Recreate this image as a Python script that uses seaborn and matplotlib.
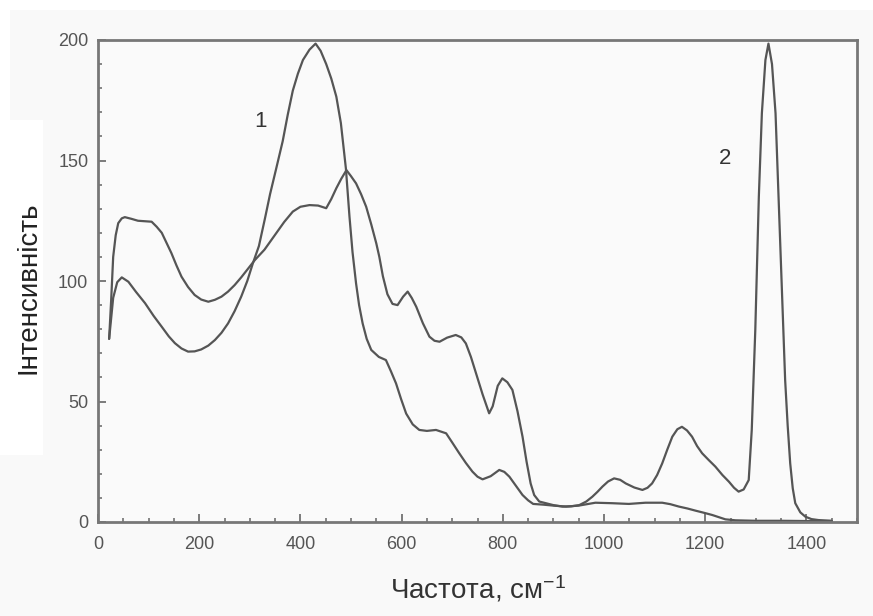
import numpy as np
import pandas as pd
import matplotlib
matplotlib.use("Agg")
import matplotlib.pyplot as plt
from matplotlib.patches import Rectangle
from matplotlib.ticker import MultipleLocator
import seaborn as sns

# Spectrum 1: broad band near 430 cm-1
freq_1 = [22, 30, 38, 47, 60, 75, 93, 110, 126, 140, 152, 165, 178, 191, 204,
          218, 231, 244, 257, 270, 283, 295, 306, 318, 330, 340, 352, 365, 375,
          385, 395, 405, 418, 430, 440, 451, 461, 471, 480, 490, 497, 503, 510,
          516, 523, 531, 540, 555, 569, 579, 589, 599, 609, 622, 635, 650, 668,
          688, 700, 714, 727, 740, 750, 760, 776, 793, 803, 813, 826, 839, 850,
          860, 880, 900, 925, 950, 983, 1016, 1049, 1082, 1115, 1131, 1148, 1165,
          1181, 1198, 1214, 1227, 1240, 1260, 1300, 1350, 1400, 1450]
int_1 = [76, 93, 99.5, 101.5, 99.7, 95.5, 90.8, 85.5, 81, 77, 74.2, 72, 70.7,
         70.8, 71.6, 73.2, 75.5, 78.5, 82.4, 87.5, 93.5, 100, 107.3, 114.5, 126,
         136, 146.5, 158, 169, 179, 186, 191.7, 196, 198.5, 195.5, 190, 184,
         176.5, 165.5, 146.5, 126.7, 112, 99, 90, 82.4, 76, 71.4, 68.5, 67.2,
         62.5, 57.5, 51, 45, 40.5, 38.2, 37.8, 38.2, 36.8, 33, 28.5, 24.5, 20.9,
         18.8, 17.7, 19, 21.6, 20.8, 18.8, 15, 11.2, 9, 7.5, 7.2, 6.8, 6.4, 6.8,
         8, 7.8, 7.5, 8, 8, 7.4, 6.4, 5.6, 4.7, 3.8, 2.9, 2, 1.1, 0.7, 0.5, 0.5,
         0.4, 0.4]

# Spectrum 2: sharp line near 1325 cm-1
freq_2 = [22, 26, 30, 35, 40, 47, 53, 66, 79, 92, 106, 116, 126, 135, 145, 155,
          165, 178, 191, 204, 218, 231, 244, 257, 270, 283, 296, 310, 329, 352,
          368, 385, 400, 418, 435, 451, 461, 471, 481, 491, 500, 510, 520, 530,
          540, 550, 556, 563, 572, 582, 592, 603, 612, 620, 629, 642, 655, 665,
          675, 690, 707, 718, 727, 737, 747, 760, 773, 780, 790, 799, 809, 819,
          829, 839, 847, 855, 862, 872, 885, 900, 918, 935, 951, 965, 977, 987,
          997, 1008, 1020, 1032, 1043, 1060, 1076, 1086, 1095, 1105, 1115, 1125,
          1135, 1145, 1154, 1164, 1174, 1184, 1194, 1207, 1220, 1234, 1247, 1257,
          1266, 1276, 1286, 1292, 1299, 1306, 1312, 1319, 1325, 1332, 1339, 1345,
          1352, 1358, 1363, 1368, 1373, 1378, 1388, 1398, 1410, 1424, 1450]
int_2 = [76, 92, 110, 119, 124, 126, 126.5, 125.8, 125, 124.8, 124.6, 122.5,
         120, 116, 111.6, 106.5, 101.8, 97.5, 94.2, 92.3, 91.4, 92.2, 93.5, 95.6,
         98.3, 101.5, 105, 108.7, 113, 119.8, 124.5, 128.8, 130.8, 131.5, 131.3,
         130.2, 134, 138.5, 142.5, 146, 143.5, 140.5, 136, 130.8, 123.5, 115.6,
         110, 102, 94.5, 90.5, 90, 93.5, 95.6, 93, 89.3, 82.5, 76.9, 75.2, 74.8,
         76.5, 77.6, 76.6, 74.1, 68.5, 61.7, 53, 45.1, 48, 56.5, 59.6, 58, 54.8,
         46, 35.4, 25, 16, 11.2, 8.5, 7.8, 7, 6.4, 6.5, 7, 8.5, 10.5, 12.5, 14.7,
         16.8, 18.1, 17.5, 16, 14.3, 13.3, 14.2, 16, 19.5, 24.3, 30, 35.4, 38.5,
         39.5, 38, 35.4, 31.5, 28.5, 25.7, 23, 19.5, 16.7, 14.2, 12.6, 13.5, 17.4,
         38.2, 79.7, 135, 169.6, 191.7, 198.5, 190, 169.6, 135, 93.5, 58.9, 40,
         24.3, 14, 7.8, 4, 2.2, 1.2, 0.8, 0.5]

curve_names = ["1", "2"]
x_ticks = [0, 200, 400, 600, 800, 1000, 1200, 1400]
y_ticks = [0, 50, 100, 150, 200]
x_label = "Частота, см$^{-1}$"
y_label = "Інтенсивність"

df = pd.concat([
    pd.DataFrame({"freq": freq_1, "intensity": int_1, "curve": curve_names[0]}),
    pd.DataFrame({"freq": freq_2, "intensity": int_2, "curve": curve_names[1]}),
], ignore_index=True)

sns.set_style("ticks")
plt.rcParams["font.family"] = ["Liberation Sans", "DejaVu Sans"]
plt.rcParams["mathtext.fontset"] = "custom"
plt.rcParams["mathtext.rm"] = "Liberation Sans"
plt.rcParams["mathtext.it"] = "Liberation Sans"

W, H = 873, 616
fig = plt.figure(figsize=(W / 100, H / 100), dpi=100, facecolor="#f9f9f9")

# white margins of the page behind the plot
for (x0, y0, w, h) in [(0, 0, W, 10), (0, 120, 43, 335), (0, 10, 10, 110)]:
    fig.patches.append(Rectangle((x0 / W, 1 - (y0 + h) / H), w / W, h / H,
                                 transform=fig.transFigure, facecolor="white",
                                 edgecolor="none", zorder=-5))

ax = fig.add_axes([98 / W, 1 - 522 / H, (857 - 98) / W, (522 - 40) / H])
ax.set_facecolor("#fafafa")

line_color = "#555555"
sns.lineplot(data=df, x="freq", y="intensity", hue="curve", units="curve",
             estimator=None, sort=False, palette=[line_color, line_color],
             linewidth=1.6, legend=False, ax=ax)
for ln in ax.lines:
    ln.set_solid_joinstyle("round")

ax.set_xlim(0, 1500)
ax.set_ylim(0, 200)
ax.set_xticks(x_ticks)
ax.set_yticks(y_ticks)
ax.xaxis.set_minor_locator(MultipleLocator(50))
ax.yaxis.set_minor_locator(MultipleLocator(10))

spine_color = "#777777"
for s in ax.spines.values():
    s.set_visible(True)
    s.set_color(spine_color)
    s.set_linewidth(2.0)

ax.tick_params(which="both", direction="in", color="#666666", top=False, right=False)
ax.tick_params(which="major", length=6, width=1.2)
ax.tick_params(which="minor", length=3, width=1.1)
ax.tick_params(axis="x", which="major", pad=10, labelsize=13, labelcolor="#555555")
ax.tick_params(axis="y", which="major", pad=7, labelsize=13, labelcolor="#555555")

ax.set_xlabel(x_label, fontsize=20, color="#333333")
ax.set_ylabel(y_label, fontsize=20, color="#222222")
ax.xaxis.set_label_coords(0.5, -0.107)
ax.yaxis.set_label_coords(-0.075, 0.487)

# curve numbers
ax.text(321, 166, curve_names[0], fontsize=16, color="#333333", ha="center", va="center")
ax.text(1240, 151, curve_names[1], fontsize=16, color="#333333", ha="center", va="center")

fig.savefig("out.png", dpi=100, facecolor=fig.get_facecolor())
